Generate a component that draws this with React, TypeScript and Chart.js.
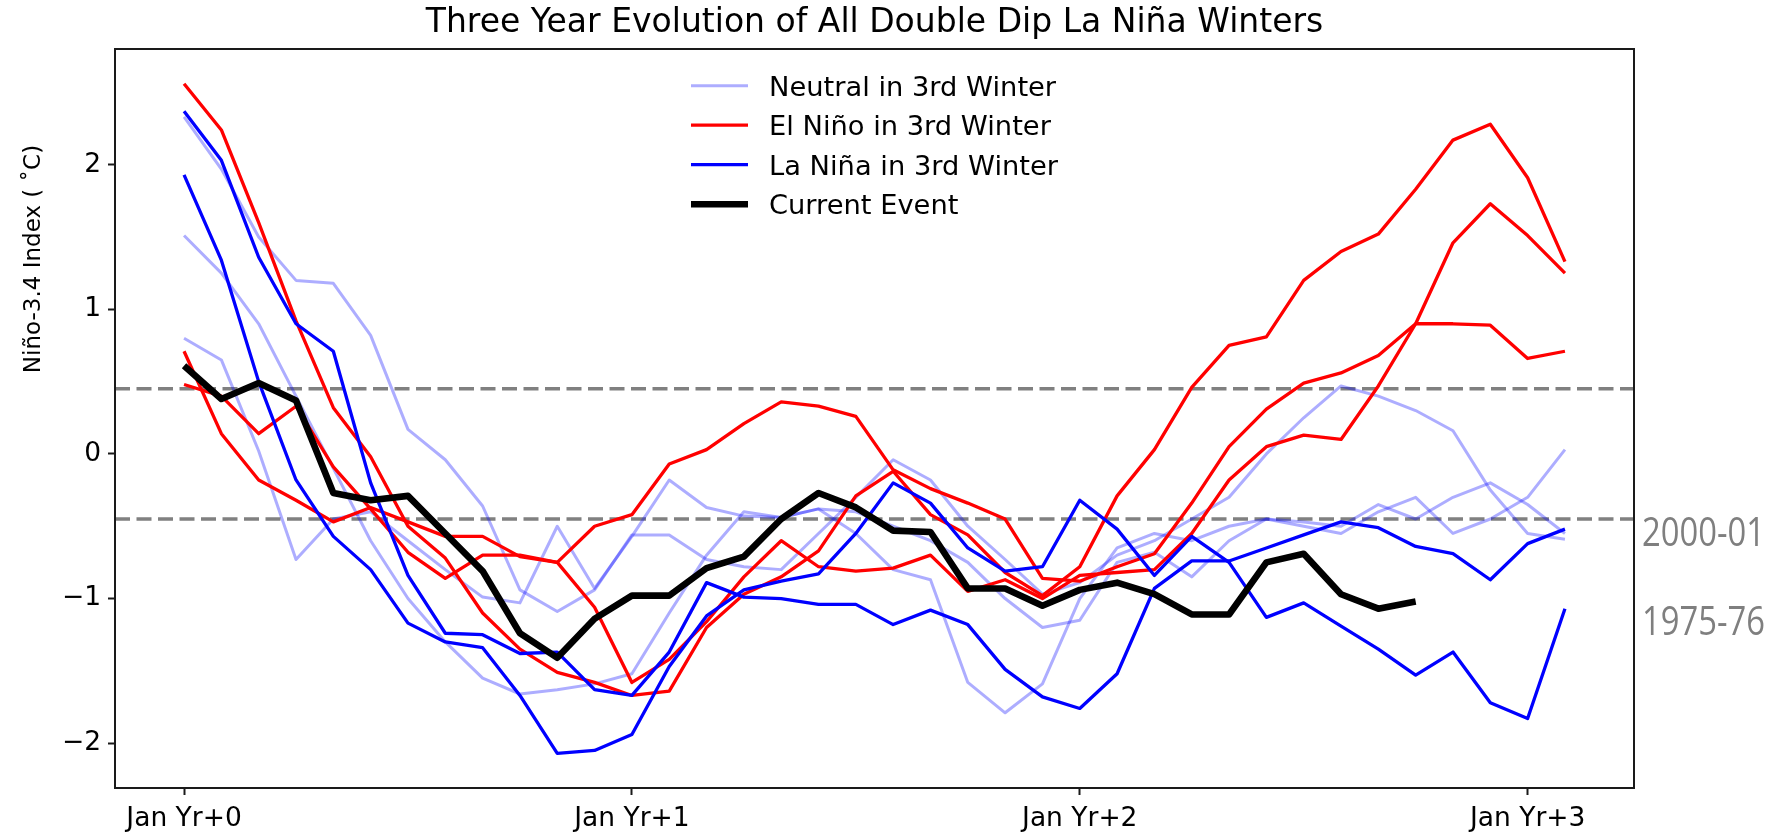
import { useEffect, useRef } from "react";
import { Chart, registerables } from "chart.js";

Chart.register(...registerables);

// ---- data ----
const monthIndex = [0, 1, 2, 3, 4, 5, 6, 7, 8, 9, 10, 11, 12, 13, 14, 15, 16, 17, 18, 19, 20, 21, 22, 23, 24, 25, 26, 27, 28, 29, 30, 31, 32, 33, 34, 35, 36, 37];
const xTickValues = [0, 12, 24, 36];
const xTickLabels = ["Jan Yr+0", "Jan Yr+1", "Jan Yr+2", "Jan Yr+3"];
const yTickValues = [-2, -1, 0, 1, 2];
const thresholds = [0.45, -0.45];

const neutral1 = [2.33, 1.97, 1.5, 1.2, 1.18, 0.82, 0.17, -0.04, -0.36, -0.94, -1.09, -0.94, -0.56, -0.56, -0.73, -0.78, -0.8, -0.55, -0.3, -0.04, -0.18, -0.5, -0.73, -0.97, -0.89, -0.7, -0.6, -0.45, -0.3, 0.0, 0.25, 0.47, 0.4, 0.3, 0.16, -0.25, -0.55, -0.59];
const neutral2 = [1.51, 1.25, 0.9, 0.4, -0.1, -0.6, -1.0, -1.3, -1.55, -1.66, -1.63, -1.59, -1.52, -1.1, -0.7, -0.4, -0.44, -0.38, -0.55, -0.8, -0.87, -1.58, -1.79, -1.59, -1.0, -0.65, -0.55, -0.6, -0.5, -0.45, -0.5, -0.55, -0.4, -0.3, -0.55, -0.45, -0.3, 0.03];
const neutral3 = [0.8, 0.65, 0.02, -0.73, -0.45, -0.4, -0.6, -0.8, -0.99, -1.03, -0.5, -0.93, -0.57, -0.18, -0.37, -0.43, -0.44, -0.38, -0.4, -0.5, -0.6, -0.75, -1.0, -1.2, -1.15, -0.75, -0.68, -0.85, -0.6, -0.45, -0.47, -0.5, -0.35, -0.45, -0.3, -0.2, -0.35, -0.55];

const elNino1 = [2.56, 2.24, 1.6, 0.92, 0.32, -0.02, -0.5, -0.72, -1.1, -1.35, -1.51, -1.58, -1.67, -1.64, -1.2, -0.97, -0.85, -0.67, -0.29, -0.12, -0.42, -0.56, -0.82, -0.98, -0.78, -0.29, 0.03, 0.46, 0.75, 0.81, 1.2, 1.4, 1.52, 1.83, 2.17, 2.28, 1.91, 1.33];
const elNino2 = [0.71, 0.14, -0.18, -0.32, -0.47, -0.37, -0.47, -0.57, -0.57, -0.71, -0.75, -0.5, -0.42, -0.07, 0.03, 0.21, 0.36, 0.33, 0.26, -0.11, -0.24, -0.34, -0.45, -0.86, -0.88, -0.78, -0.69, -0.34, 0.05, 0.31, 0.49, 0.56, 0.68, 0.9, 0.9, 0.89, 0.66, 0.71];
const elNino3 = [0.48, 0.4, 0.14, 0.33, -0.09, -0.38, -0.68, -0.86, -0.7, -0.7, -0.75, -1.06, -1.58, -1.42, -1.16, -0.85, -0.6, -0.78, -0.81, -0.79, -0.7, -0.95, -0.87, -1.0, -0.84, -0.82, -0.8, -0.55, -0.18, 0.05, 0.13, 0.1, 0.47, 0.9, 1.46, 1.73, 1.51, 1.25];

const laNina1 = [2.37, 2.03, 1.36, 0.9, 0.71, -0.2, -0.84, -1.24, -1.25, -1.38, -1.37, -1.63, -1.67, -1.37, -0.89, -0.99, -1.0, -1.04, -1.04, -1.18, -1.08, -1.18, -1.49, -1.68, -1.76, -1.52, -0.93, -0.74, -0.74, -0.65, -0.56, -0.47, -0.51, -0.64, -0.69, -0.87, -0.62, -0.52];
const laNina2 = [1.93, 1.34, 0.5, -0.18, -0.57, -0.8, -1.17, -1.3, -1.34, -1.67, -2.07, -2.05, -1.94, -1.47, -1.12, -0.94, -0.88, -0.83, -0.55, -0.2, -0.34, -0.65, -0.81, -0.78, -0.32, -0.52, -0.84, -0.57, -0.75, -1.13, -1.03, -1.19, -1.35, -1.53, -1.37, -1.72, -1.83, -1.07];

const currentEvent = [0.61, 0.38, 0.49, 0.37, -0.27, -0.32, -0.29, -0.55, -0.81, -1.24, -1.41, -1.14, -0.98, -0.98, -0.79, -0.71, -0.45, -0.27, -0.37, -0.53, -0.54, -0.93, -0.93, -1.05, -0.94, -0.89, -0.97, -1.11, -1.11, -0.75, -0.69, -0.97, -1.07, -1.02];

const legendLabels = ["Neutral in 3rd Winter", "El Niño in 3rd Winter", "La Niña in 3rd Winter", "Current Event"];
const titleText = "Three Year Evolution of All Double Dip La Niña Winters";
const yLabelText = "Niño-3.4 Index ( ˚C)";
const sideLabels = ["2000-01", "1975-76"];

const NEUTRAL = "rgba(0,0,255,0.32)";
const RED = "#ff0000";
const BLUE = "#0000ff";
const BLACK = "#000000";
const X_MIN = -1.85;
const X_MAX = 38.85;
const TICK_FONT = 26.5;

const toPts = (vals: number[]) => vals.map((v, i) => ({ x: monthIndex[i], y: v }));
const fmt = (v: number) => (v < 0 ? "\u2212" + Math.abs(v) : String(v));

const decorPlugin = {
  id: "decor",
  afterDraw(chart: any) {
    const ctx = chart.ctx as CanvasRenderingContext2D;
    const a = chart.chartArea;
    ctx.save();
    // frame
    ctx.strokeStyle = "#1a1a1a";
    ctx.lineWidth = 2;
    ctx.strokeRect(a.left, a.top, a.right - a.left, a.bottom - a.top);
    // title
    ctx.fillStyle = "#000";
    ctx.font = "33px 'DejaVu Sans'";
    ctx.textAlign = "center";
    ctx.textBaseline = "alphabetic";
    ctx.fillText(titleText, (a.left + a.right) / 2, 32);
    // y label
    ctx.save();
    ctx.translate(34, 259);
    ctx.rotate(-Math.PI / 2);
    ctx.font = "23px 'DejaVu Sans'";
    ctx.textAlign = "center";
    ctx.textBaseline = "middle";
    ctx.fillText(yLabelText, 0, 0);
    ctx.restore();
    // legend
    const colors = [NEUTRAL, RED, BLUE, BLACK];
    const widths = [3, 3.3, 3.3, 6.6];
    ctx.font = "27.3px 'DejaVu Sans'";
    ctx.textAlign = "left";
    ctx.textBaseline = "alphabetic";
    legendLabels.forEach((lab, k) => {
      const y = 85.7 + k * 39.5;
      ctx.strokeStyle = colors[k];
      ctx.lineWidth = widths[k];
      ctx.beginPath();
      ctx.moveTo(691, y);
      ctx.lineTo(748, y);
      ctx.stroke();
      ctx.fillStyle = "#000";
      ctx.fillText(lab, 769, y + 9.9);
    });
    // side labels (narrow gray annotation text)
    ctx.fillStyle = "#7f7f7f";
    ctx.font = "40px 'Open Sans', 'DejaVu Sans'";
    ctx.textBaseline = "middle";
    const sidePos = [535, 624];
    sideLabels.forEach((t, k) => {
      const w = ctx.measureText(t).width;
      const sx = 123 / w;
      ctx.save();
      ctx.translate(1642, sidePos[k]);
      ctx.scale(sx, 1);
      ctx.fillText(t, 0, 0);
      ctx.restore();
    });
    ctx.restore();
  },
};

export default function App() {
  const ref = useRef<HTMLCanvasElement | null>(null);
  useEffect(() => {
    if (!ref.current) return;
    const lineDs = (vals: number[], color: string, width: number, order: number) => ({
      data: toPts(vals),
      borderColor: color,
      borderWidth: width,
      pointRadius: 0,
      fill: false,
      tension: 0,
      borderJoinStyle: "round" as const,
      borderCapStyle: "butt" as const,
      order,
    });
    const dashDs = (v: number) => ({
      data: [
        { x: X_MIN, y: v },
        { x: X_MAX, y: v },
      ],
      borderColor: "#808080",
      borderWidth: 3.5,
      borderDash: [15, 6.5],
      pointRadius: 0,
      fill: false,
      order: 100,
    });
    const chart = new Chart(ref.current, {
      type: "line",
      data: {
        datasets: [
          lineDs(currentEvent, BLACK, 6.6, 0),
          lineDs(laNina1, BLUE, 3.3, 10),
          lineDs(laNina2, BLUE, 3.3, 10),
          lineDs(elNino1, RED, 3.3, 20),
          lineDs(elNino2, RED, 3.3, 20),
          lineDs(elNino3, RED, 3.3, 20),
          lineDs(neutral1, NEUTRAL, 3, 30),
          lineDs(neutral2, NEUTRAL, 3, 30),
          lineDs(neutral3, NEUTRAL, 3, 30),
          dashDs(thresholds[0]),
          dashDs(thresholds[1]),
        ] as any,
      },
      options: {
        responsive: false,
        animation: false,
        devicePixelRatio: 1,
        layout: { padding: { left: 0, top: 49, right: 154, bottom: 0 } },
        plugins: {
          legend: { display: false },
          tooltip: { enabled: false },
          title: { display: false },
        },
        scales: {
          x: {
            type: "linear",
            min: X_MIN,
            max: X_MAX,
            afterFit: (s: any) => {
              s.height = 50;
            },
            afterBuildTicks: (s: any) => {
              s.ticks = xTickValues.map((v) => ({ value: v }));
            },
            ticks: {
              autoSkip: false,
              maxRotation: 0,
              padding: 8,
              color: "#000",
              font: { family: "DejaVu Sans", size: TICK_FONT },
              callback: (v: any) => xTickLabels[xTickValues.indexOf(Number(v))] ?? "",
            },
            grid: {
              display: true,
              drawOnChartArea: false,
              drawTicks: true,
              tickLength: 7,
              tickWidth: 2,
              tickColor: "#1a1a1a",
            },
            border: { display: false },
          },
          y: {
            type: "linear",
            min: -2.31,
            max: 2.8,
            afterFit: (s: any) => {
              s.width = 115;
            },
            afterBuildTicks: (s: any) => {
              s.ticks = yTickValues.map((v) => ({ value: v }));
            },
            ticks: {
              padding: 7,
              color: "#000",
              font: { family: "DejaVu Sans", size: TICK_FONT },
              callback: (v: any) => fmt(Number(v)),
            },
            grid: {
              display: true,
              drawOnChartArea: false,
              drawTicks: true,
              tickLength: 7,
              tickWidth: 2,
              tickColor: "#1a1a1a",
            },
            border: { display: false },
          },
        },
      },
      plugins: [decorPlugin],
    });
    return () => chart.destroy();
  }, []);
  return (
    <div style={{ position: "fixed", left: 0, top: 0, width: 1788, height: 838, background: "#fff" }}>
      <canvas ref={ref} width={1788} height={838} style={{ width: 1788, height: 838, display: "block" }} />
    </div>
  );
}
